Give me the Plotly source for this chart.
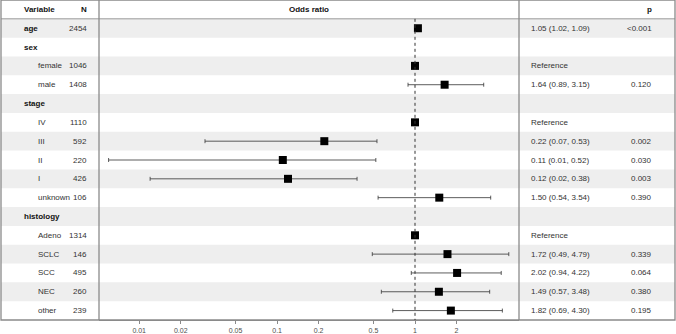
import plotly.graph_objects as go

# ---- data ----
labels = ["age", "sex", "female", "male", "stage", "IV", "III", "II", "I", "unknown",
          "histology", "Adeno", "SCLC", "SCC", "NEC", "other"]
is_group = [True, True, False, False, True, False, False, False, False, False,
            True, False, False, False, False, False]
n_text = ["2454", "", "1046", "1408", "", "1110", "592", "220", "426", "106",
          "", "1314", "146", "495", "260", "239"]
odds = [1.05, None, 1.0, 1.64, None, 1.0, 0.22, 0.11, 0.12, 1.50,
        None, 1.0, 1.72, 2.02, 1.49, 1.82]
ci_low = [1.02, None, 1.0, 0.89, None, 1.0, 0.03, 0.006, 0.012, 0.54,
          None, 1.0, 0.49, 0.94, 0.57, 0.69]
ci_high = [1.09, None, 1.0, 3.15, None, 1.0, 0.53, 0.52, 0.38, 3.54,
           None, 1.0, 4.79, 4.22, 3.48, 4.30]
est_text = ["1.05 (1.02, 1.09)", "", "Reference", "1.64 (0.89, 3.15)", "", "Reference",
            "0.22 (0.07, 0.53)", "0.11 (0.01, 0.52)", "0.12 (0.02, 0.38)", "1.50 (0.54, 3.54)",
            "", "Reference", "1.72 (0.49, 4.79)", "2.02 (0.94, 4.22)", "1.49 (0.57, 3.48)",
            "1.82 (0.69, 4.30)"]
p_text = ["<0.001", "", "", "0.120", "", "", "0.002", "0.030", "0.003", "0.390",
          "", "", "0.339", "0.064", "0.380", "0.195"]
tick_vals = [0.01, 0.02, 0.05, 0.1, 0.2, 0.5, 1, 2]
tick_text = ["0.01", "0.02", "0.05", "0.1", "0.2", "0.5", "1", "2"]

W, H = 676, 334
L, R, T, B = 99, 157, 0, 10
PW = W - L - R


def px(x):
    return (x - L) / PW


FONT = "Liberation Sans, Arial, sans-serif"
nrows = len(labels)

xs, ys, ep, em = [], [], [], []
for i in range(nrows):
    if odds[i] is None:
        continue
    xs.append(odds[i])
    ys.append(i)
    ep.append(ci_high[i] - odds[i])
    em.append(odds[i] - ci_low[i])

fig = go.Figure()
fig.add_trace(go.Scatter(
    x=xs, y=ys, mode="markers",
    marker=dict(symbol="square", size=8, color="black"),
    error_x=dict(type="data", symmetric=False, array=ep, arrayminus=em,
                 color="#333333", thickness=0.8, width=2),
    hoverinfo="skip", showlegend=False,
))

shapes = []
for i in range(nrows):
    if i % 2 == 0:
        shapes.append(dict(type="rect", xref="paper", yref="y",
                           x0=px(1), x1=px(675), y0=i - 0.5, y1=i + 0.5,
                           fillcolor="#EEEEEE", line=dict(width=0), layer="below"))
border = dict(color="#8a8a8a", width=1.3)
shapes.append(dict(type="line", xref="paper", yref="y", x0=px(1), x1=px(675),
                   y0=-0.5, y1=-0.5, line=dict(color="#9a9a9a", width=1)))
shapes.append(dict(type="line", xref="paper", yref="paper", x0=0, x1=0, y0=0, y1=1, line=border))
shapes.append(dict(type="line", xref="paper", yref="paper", x0=1, x1=1, y0=0, y1=1, line=border))
shapes.append(dict(type="rect", xref="paper", yref="paper", x0=px(1), x1=px(675),
                   y0=0, y1=1, line=border))
shapes.append(dict(type="line", xref="x", yref="y", x0=1, x1=1, y0=-0.5, y1=nrows - 0.5,
                   line=dict(color="#333333", width=1, dash="dot")))

ann = []
def txt(x, y, s, anchor, bold=False, color="#333333"):
    ann.append(dict(x=x, y=y, xref="paper", yref="y", text=("<b>%s</b>" % s) if bold else s,
                    showarrow=False, xanchor=anchor, yanchor="middle",
                    font=dict(family=FONT, size=8, color="#111111" if bold else color)))

txt(px(22), -1, "Variable", "left", True)
txt(px(89), -1, "N", "right", True)
txt(0.5, -1, "Odds ratio", "center", True)
txt(px(654), -1, "p", "right", True)
for i in range(nrows):
    if is_group[i]:
        txt(px(22), i, labels[i], "left", True)
    else:
        txt(px(36), i, labels[i], "left")
    if n_text[i]:
        txt(px(89), i, n_text[i], "right")
    if est_text[i]:
        txt(px(529), i, est_text[i], "left")
    if p_text[i]:
        txt(px(654), i, p_text[i], "right")

fig.update_layout(
    width=W, height=H, margin=dict(l=L, r=R, t=T, b=B),
    paper_bgcolor="white", plot_bgcolor="white",
    shapes=shapes, annotations=ann,
    xaxis=dict(type="log", range=[-2.2915, 0.7542], tickvals=tick_vals, ticktext=tick_text,
               showgrid=False, zeroline=False, showline=True, linecolor="#8a8a8a", linewidth=1.3,
               ticks="outside", ticklen=3, tickcolor="#8a8a8a", tickwidth=1,
               tickfont=dict(family=FONT, size=7, color="#4d4d4d"), fixedrange=True),
    yaxis=dict(range=[nrows - 0.5, -1.5], visible=False, showgrid=False, zeroline=False,
               fixedrange=True),
)
fig.write_html("out.html", config={"displayModeBar": False},
               post_script="document.body.style.margin='0px';document.body.style.overflow='hidden';")
